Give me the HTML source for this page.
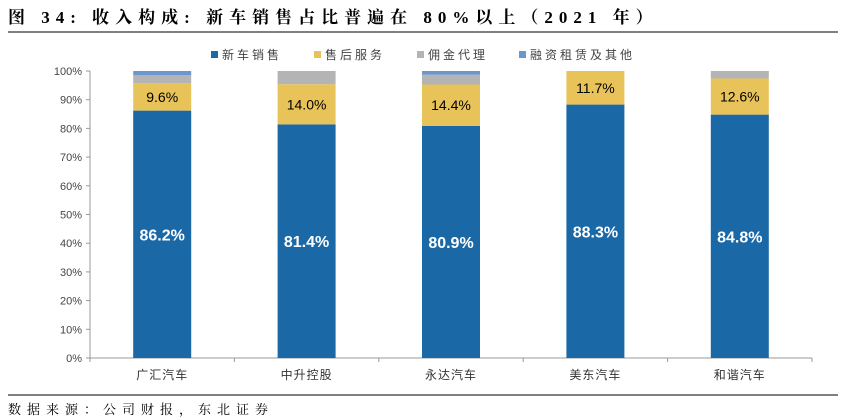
<!DOCTYPE html>
<html><head><meta charset="utf-8"><style>
body{margin:0;background:#fff;font-family:"Liberation Sans","Noto Sans CJK SC",sans-serif;}
#wrap{position:relative;width:844px;height:420px;overflow:hidden;}
</style></head><body>
<div id="wrap">
<svg id="svg" width="844" height="420" xmlns="http://www.w3.org/2000/svg">
<text x="8" y="23" font-size="17" font-weight="bold" letter-spacing="6" font-family="Liberation Serif,Noto Serif CJK SC,serif" fill="#000">图 34: 收入构成: 新车销售占比普遍在 80%以上（2021 年）</text>
<line x1="8" y1="32" x2="838" y2="32" stroke="#000" stroke-width="1"/>
<line x1="8" y1="395" x2="838" y2="395" stroke="#000" stroke-width="1"/>
<text x="8" y="414" font-size="13" letter-spacing="6" fill="#000" font-family="Noto Serif CJK SC,serif">数据来源：公司财报，东北证券</text>
<g id="legend"></g>
<g id="axes"></g>
<g id="bars"></g>
</svg>
</div>
<script>
const categories=["广汇汽车","中升控股","永达汽车","美东汽车","和谐汽车"];
const seriesNames=["新车销售","售后服务","佣金代理","融资租赁及其他"];
const newCar=[86.2,81.4,80.9,88.3,84.8];
const afterSales=[9.6,14.0,14.4,11.7,12.6];
const commission=[2.7,4.6,3.4,0,2.6];
const finance=[1.5,0,1.3,0,0];
const yTicks=[0,10,20,30,40,50,60,70,80,90,100];
const colors=["#1b68a6","#e8c35a","#b4b4b4","#6d97cc"];
const NS="http://www.w3.org/2000/svg";
const x0=90,x1=812,yTop=71,yBot=358;
const y=v=>yBot-(v/100)*(yBot-yTop);
const bandW=(x1-x0)/categories.length;
const xc=i=>x0+bandW*(i+0.5);
const barW=58;
function mk(tag,attrs,parent){const e=document.createElementNS(NS,tag);for(const k in attrs)e.setAttribute(k,attrs[k]);parent.appendChild(e);return e;}
const axes=document.getElementById('axes'),bars=document.getElementById('bars'),legend=document.getElementById('legend');
let l=mk('line',{x1:x0,y1:yTop,x2:x0,y2:yBot,stroke:'#999'},axes);


l=mk('line',{x1:x0,y1:yBot,x2:x1,y2:yBot,stroke:'#999'},axes);


yTicks.forEach(t=>{
 const tk=mk('line',{x1:x0-4,y1:y(t),x2:x0,y2:y(t),stroke:'#999'},axes);
 
 
 const tx=mk('text',{x:x0-8,y:y(t)+4,'text-anchor':'end','font-size':11,fill:'#444'},axes);
 tx.textContent=t+'%';
 
 
});
for(let i=0;i<=categories.length;i++){
 const tk=mk('line',{x1:x0+bandW*i,y1:yBot,x2:x0+bandW*i,y2:yBot+4,stroke:'#999'},axes);
 
 
}
const series=[newCar,afterSales,commission,finance];
const segNames=['new-car','after-sales','commission','finance'];
categories.forEach((c,i)=>{
 let acc=0;
 series.forEach((s,k)=>{
  const v=s[i]; if(v<=0){return;}
  const r=mk('rect',{x:xc(i)-barW/2,y:y(acc+v),width:barW,height:y(acc)-y(acc+v),fill:colors[k]},bars);
  
  
  if(k<2){
   const t=mk('text',{x:xc(i),y:(y(acc)+y(acc+v))/2+(k==0?6:5),'text-anchor':'middle','font-size':k==0?16:14,fill:k==0?'#fff':'#000','font-weight':k==0?'bold':'normal'},bars);
   t.textContent=v.toFixed(1)+'%';
   
   
  }
  acc+=v;
 });
 const t=mk('text',{x:xc(i),y:yBot+21,'text-anchor':'middle','font-size':12,fill:'#333','letter-spacing':'1'},axes);
 t.textContent=c;
 
 
});
const lx=[211,314,417,519];
seriesNames.forEach((n,k)=>{
 const r=mk('rect',{x:lx[k],y:51,width:7,height:7,fill:colors[k]},legend);
 
 
 const t=mk('text',{x:lx[k]+11,y:59,'font-size':12,fill:'#444','letter-spacing':'3'},legend);
 t.textContent=n;
 
 
});
</script>
</body></html>
